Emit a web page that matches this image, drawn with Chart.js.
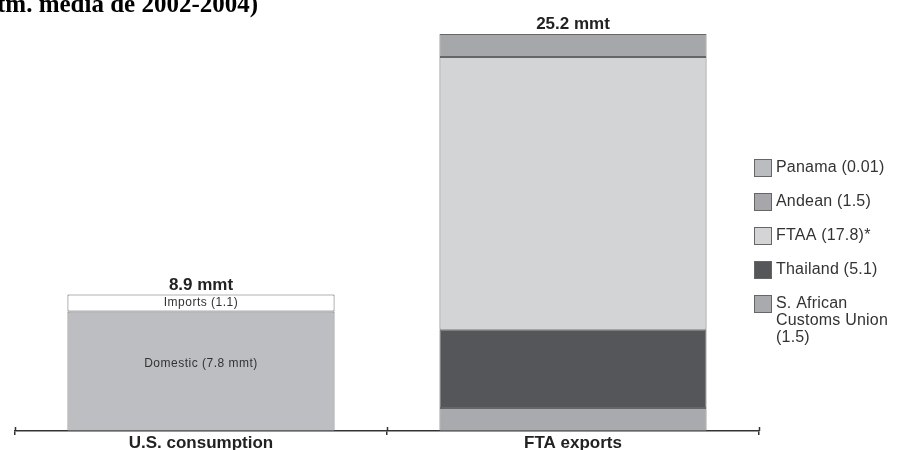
<!DOCTYPE html>
<html>
<head>
<meta charset="utf-8">
<script src="https://cdn.jsdelivr.net/npm/chart.js@4"></script>
<style>
  html, body { margin: 0; padding: 0; background: #fff; }
  #wrap { width: 899px; height: 450px; position: relative; }
</style>
</head>
<body>
<div id="wrap"><canvas id="sugarChart" width="899" height="450"></canvas></div>
<script>
// DATA
const categories = ["U.S. consumption", "FTA exports"];
const domestic = [7.8, null];
const imports = [1.1, null];
const sacu = [null, 1.5];
const thailand = [null, 5.1];
const ftaa = [null, 17.8];
const andean = [null, 1.5];
const panama = [null, 0.01];
const totals = ["8.9 mmt", "25.2 mmt"];
const segmentLabels = ["Domestic (7.8 mmt)", "Imports (1.1)"];
const legendLabels = [
  ["Panama (0.01)"],
  ["Andean (1.5)"],
  ["FTAA (17.8)*"],
  ["Thailand (5.1)"],
  ["S. African", "Customs Union", "(1.5)"]
];
const titleText = "tm. media de 2002-2004)";

const SANS = "'Liberation Sans', Arial, sans-serif";

// extra text: title, totals, labels in segments, legend
const extras = {
  id: "extras",
  afterDraw(chart){
    const ctx = chart.ctx;
    ctx.save();

    // title (cut off at top like the original)
    ctx.fillStyle = "#000";
    ctx.font = "bold 25px 'Liberation Serif', 'Times New Roman', serif";
    ctx.textAlign = "left";
    ctx.textBaseline = "alphabetic";
    ctx.fillText(titleText, -3, 12);

    // totals above each bar
    const topDs = [1, 6];
    ctx.font = "bold 17px " + SANS;
    ctx.textAlign = "center";
    ctx.textBaseline = "bottom";
    ctx.fillStyle = "#222";
    topDs.forEach((d, i) => {
      const el = chart.getDatasetMeta(d).data[i];
      ctx.fillText(totals[i], el.x, el.y - 1);
    });

    // labels inside the U.S. bar
    ctx.font = "12px " + SANS;
    ctx.letterSpacing = "0.5px";
    ctx.textBaseline = "middle";
    ctx.fillStyle = "#333";
    [0, 1].forEach((d, i) => {
      const el = chart.getDatasetMeta(d).data[0];
      ctx.fillText(segmentLabels[i], el.x, (el.y + el.base) / 2 + (i ? 0 : -8));
    });

    // small tick crosses above the axis
    const xs = chart.scales.x;
    ctx.strokeStyle = "#333";
    ctx.lineWidth = 1.5;
    [xs.left, (xs.left + xs.right) / 2, xs.right].forEach(px => {
      ctx.beginPath();
      ctx.moveTo(Math.round(px) + 0.5, xs.top - 4);
      ctx.lineTo(Math.round(px) + 0.5, xs.top);
      ctx.stroke();
    });

    // legend, top to bottom = stack order top to bottom
    const legendDs = [6, 5, 4, 3, 2];
    const bx = 754, box = 18;
    let y = 159;
    ctx.font = "16px " + SANS;
    ctx.letterSpacing = "0.2px";
    ctx.textAlign = "left";
    ctx.textBaseline = "top";
    legendDs.forEach((d, i) => {
      const ds = chart.data.datasets[d];
      ctx.fillStyle = ds.backgroundColor;
      ctx.fillRect(bx, y, box, box);
      ctx.strokeStyle = "#666";
      ctx.lineWidth = 1;
      ctx.strokeRect(bx + 0.5, y + 0.5, box - 1, box - 1);
      ctx.fillStyle = "#333";
      legendLabels[i].forEach((line, k) => {
        ctx.fillText(line, bx + box + 4, y + 1 + k * 17);
      });
      y += 34;
    });

    ctx.restore();
  }
};

new Chart(document.getElementById("sugarChart"), {
  type: "bar",
  data: {
    labels: categories,
    datasets: [
      { label: "Domestic", data: domestic, backgroundColor: "#bdbec1" },
      { label: "Imports", data: imports, backgroundColor: "#ffffff" },
      { label: "S. African Customs Union", data: sacu, backgroundColor: "#a9aaad" },
      { label: "Thailand", data: thailand, backgroundColor: "#55565a" },
      { label: "FTAA", data: ftaa, backgroundColor: "#d3d4d6" },
      { label: "Andean", data: andean, backgroundColor: "#a6a7aa" },
      { label: "Panama", data: panama, backgroundColor: "#bbbcbf" }
    ]
  },
  options: {
    responsive: false,
    animation: false,
    layout: { padding: { top: 20, left: 15, right: 140, bottom: 0 } },
    datasets: {
      bar: {
        categoryPercentage: 1,
        barPercentage: 0.718,
        borderColor: "#666",
        borderWidth: 1,
        borderSkipped: false
      }
    },
    plugins: {
      legend: { display: false },
      title: { display: false },
      tooltip: { enabled: false }
    },
    scales: {
      x: {
        stacked: true,
        afterFit(scale){ scale.height = 19; },
        grid: {
          drawOnChartArea: false,
          drawTicks: true,
          tickLength: 4,
          color: "#333",
          lineWidth: 1.5
        },
        border: { display: true, color: "#333", width: 1.5 },
        ticks: {
          padding: 0,
          color: "#222",
          font: { family: SANS, size: 17, weight: "bold", lineHeight: 1 }
        }
      },
      y: {
        stacked: true,
        display: false,
        min: 0,
        max: 26.82
      }
    }
  },
  plugins: [extras]
});
</script>
</body>
</html>
